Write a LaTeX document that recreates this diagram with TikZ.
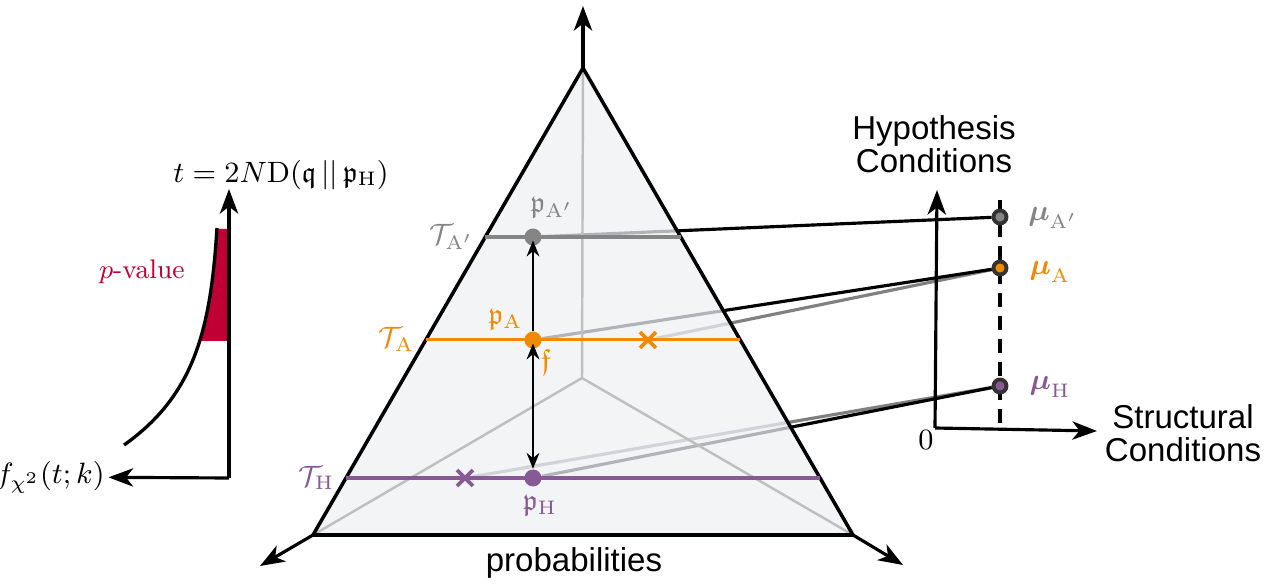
\documentclass[tikz,border=0pt]{standalone}
\usepackage{amsmath,amssymb}
\usepackage{fontspec}
\newfontfamily\helv{Liberation Sans}
\usetikzlibrary{positioning,calc,arrows.meta,shapes.misc,backgrounds}
\definecolor{hgray}{HTML}{858585}
\definecolor{aorange}{HTML}{F08A00}
\definecolor{hpurple}{HTML}{875A96}
\definecolor{pred}{HTML}{C00035}
\definecolor{simplex}{HTML}{EEF0F3}
\tikzset{
  ax/.style     = {line width=0.9pt, -{Stealth[length=7pt,width=5.2pt,inset=2pt]}},
  tedge/.style  = {line width=1pt},
  spoke/.style  = {line width=0.7pt, black!25},
  lvl/.style    = {line width=0.9pt},
  conn/.style   = {line width=0.9pt},
  varr/.style   = {line width=0.7pt},
  vtip/.tip     = {Stealth[length=4.5pt,width=3.6pt]},
  pdot/.style   = {circle, inner sep=0pt, minimum size=1.7mm},
  mdot/.style   = {circle, draw=black!80, line width=1.1pt, inner sep=0pt,
                   minimum size=1.3mm},
  xmark/.style  = {cross out, draw, line width=1.1pt, inner sep=0pt,
                   minimum size=1.2mm},
  mth/.style    = {scale=0.93},
  slbl/.style   = {font=\helv\fontsize{9.4pt}{9.3pt}\selectfont, align=center},
}

\begin{document}
\begin{tikzpicture}[font=\fontsize{9pt}{11pt}\selectfont]
  \useasboundingbox (0,0) rectangle (12.73,5.83);
  % simplex
  \coordinate (top) at (5.83,5.15);
  \coordinate (bl) at (3.13,0.48);
  \coordinate (br) at (8.53,0.48);
  \coordinate (c) at (5.82,2.05);
  \coordinate (topt) at (5.83,5.77);
  \coordinate (blt) at (2.60,0.17);
  \coordinate (brt) at (9.03,0.18);
  \draw[tedge] (top) -- (bl) -- (br) -- cycle;
  \draw[ax] (top) -- (topt);
  \draw[ax] (bl) -- (blt);
  \draw[ax] (br) -- (brt);
  \node[slbl] (prob) at (5.74,0.20) {probabilities};
  \draw[lvl, hgray] ($(bl)!0.638!(top)$) coordinate (lAp) -- ($(br)!0.638!(top)$);
  \draw[lvl, aorange] ($(bl)!0.418!(top)$) coordinate (lA) -- ($(br)!0.418!(top)$);
  \draw[lvl, hpurple] ($(bl)!0.122!(top)$) coordinate (lH) -- ($(br)!0.122!(top)$);
  \node[mth, left, hgray] (tAp) at (lAp) {$\mathcal{T}_{\mathrm{A}'}$};
  \node[mth, left, aorange] (tA) at (lA) {$\mathcal{T}_{\mathrm{A}}$};
  \node[mth, left, hpurple] (tH) at (lH) {$\mathcal{T}_{\mathrm{H}}$};
  \node[pdot, fill=hgray] (pAp) at (5.33,3.46) {};
  \node[pdot, fill=aorange] (pA) at (5.33,2.43) {};
  \node[pdot, fill=hpurple] (pH) at (5.33,1.05) {};
  \node[xmark, aorange] (xA) at (6.48,2.43) {};
  \node[xmark, hpurple] (xH) at (4.65,1.05) {};
  \node[mth, hgray] (lpAp) at (5.52,3.75) {$\mathfrak{p}_{\mathrm{A}'}$};
  \node[mth, aorange] (lpA) at (5.055,2.63) {$\mathfrak{p}_{\mathrm{A}}$};
  \node[mth, aorange] (lf) at (5.46,2.21) {$\mathfrak{f}$};
  \node[mth, hpurple] (lpH) at (5.40,0.77) {$\mathfrak{p}_{\mathrm{H}}$};
  \draw[varr, -vtip] (pA) -- ([yshift=-1pt]pAp.center);
  \draw[varr, vtip-vtip] (pH) -- ([yshift=-1pt]pA.center);
  % test statistic
  \coordinate (o1) at (2.29,1.05);
  \coordinate (ty) at (2.29,3.94);
  \node[mth, anchor=east, inner sep=1pt] (fl) at (1.085,1.06) {$f_{\chi^2}(t;k)$};
  \node[mth] (tl) at (2.81,4.08) {$t = 2N\mathrm{D}(\mathfrak{q}\,||\,\mathfrak{p}_{\mathrm{H}})$};
  \node[pred, scale=0.85] (pv) at (1.42,3.11) {$p$-value};
  \fill[pred] plot[domain=1.04:2.16, samples=30]
    ({2.29-0.97*exp(-1.454*\x)-0.079},{1.38+\x}) -- (2.29,3.54) -- (2.29,2.42) -- cycle;
  \draw[line width=0.95pt] plot[domain=0:2.17, samples=60]
    ({2.29-0.97*exp(-1.454*\x)-0.079},{1.38+\x});
  \draw[ax] (o1) -- (ty);
  \draw[ax] (o1) -- (fl);
  % conditions
  \coordinate (o2) at (9.35,1.55);
  \coordinate (hy) at (9.37,3.93);
  \coordinate (sx) at (10.97,1.52);
  \coordinate (dtop) at (10.00,3.83);
  \coordinate (dbot) at (10.00,1.55);
  \draw[ax] (o2) -- (hy);
  \draw[ax] (o2) -- (sx);
  \draw[line width=0.9pt, dash pattern=on 4pt off 2.6pt] (dtop) -- (dbot);
  \node[mth] (zero) at (9.26,1.43) {$0$};
  \node[slbl] (hyp) at (9.34,4.39) {Hypothesis\\Conditions};
  \node[slbl] (str) at (11.83,1.50) {Structural\\Conditions};
  \node[mdot, fill=hgray] (mAp) at (10.00,3.66) {};
  \node[mdot, fill=aorange] (mA) at (10.00,3.15) {};
  \node[mdot, fill=hpurple] (mH) at (10.00,1.97) {};
  \node[mth, hgray] (lmAp) at (10.53,3.65) {$\boldsymbol{\mu}_{\mathrm{A}'}$};
  \node[mth, aorange] (lmA) at (10.50,3.11) {$\boldsymbol{\mu}_{\mathrm{A}}$};
  \node[mth, hpurple] (lmH) at (10.50,1.96) {$\boldsymbol{\mu}_{\mathrm{H}}$};
  \begin{scope}[on background layer]
    \draw[conn, black!50] (xA) -- (mA);
    \draw[conn, black!50] (xH) -- (mH);
    \draw[conn] (pAp) -- (mAp);
    \draw[conn] (pA) -- (mA);
    \draw[conn] (pH) -- (mH);
    \fill[simplex, fill opacity=0.75] (top) -- (bl) -- (br) -- cycle;
    \draw[spoke] (c) -- (top) (c) -- (bl) (c) -- (br);
  \end{scope}
\end{tikzpicture}
\end{document}
